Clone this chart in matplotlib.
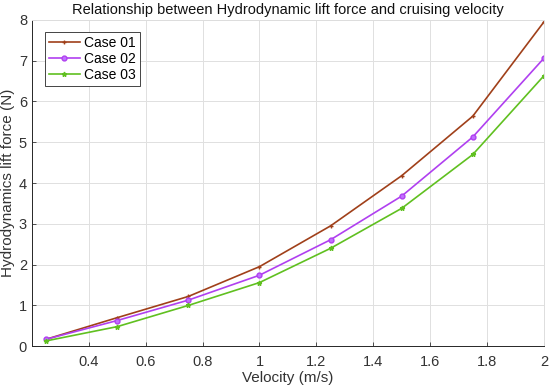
import matplotlib
matplotlib.use("Agg")
import matplotlib.pyplot as plt

plt.rcParams["font.family"] = ["Liberation Sans", "DejaVu Sans"]

velocity = [0.25, 0.5, 0.75, 1.0, 1.25, 1.5, 1.75, 2.0]
case01 = [0.17, 0.70, 1.22, 1.95, 2.95, 4.18, 5.64, 7.95]
case02 = [0.17, 0.63, 1.13, 1.74, 2.61, 3.68, 5.13, 7.06]
case03 = [0.13, 0.48, 1.00, 1.56, 2.40, 3.38, 4.70, 6.63]

fig = plt.figure(figsize=(5.5, 3.89), dpi=100)
ax = fig.add_axes([0.058, 0.110, 0.931, 0.839])

ax.plot(velocity, case01, "-+", color="#a0401a", lw=1.2, ms=3.5, mew=1, label="Case 01")
ax.plot(velocity, case02, "-o", color="#b040f0", lw=1.2, ms=3.5, mew=1,
	mfc="#c070ff", label="Case 02")
ax.plot(velocity, case03, "-*", color="#60c020", lw=1.2, ms=3.5, mew=1, label="Case 03")

ax.set_xlim(0.2, 2)
ax.set_ylim(0, 8)
ax.set_xticks([0.4, 0.6, 0.8, 1, 1.2, 1.4, 1.6, 1.8, 2])
ax.set_xticklabels(["0.4", "0.6", "0.8", "1", "1.2", "1.4", "1.6", "1.8", "2"])
ax.set_yticks(range(0, 9))

ax.grid(True, color="#e0e0e0", lw=0.7)
ax.set_axisbelow(True)
for side in ["left", "bottom"]:
	ax.spines[side].set_color("#262626")
	ax.spines[side].set_linewidth(0.7)
for side in ["top", "right"]:
	ax.spines[side].set_color("#dddddd")
	ax.spines[side].set_linewidth(0.7)
ax.tick_params(direction="in", length=3, width=0.6, colors="#333333", labelsize=10.5)
ax.tick_params(axis="x", pad=6)

ax.set_title("Relationship between Hydrodynamic lift force and cruising velocity",
	fontsize=10.5, color="#111111", pad=4)
ax.set_xlabel("Velocity (m/s)", fontsize=11, color="#333333", labelpad=2)
ax.set_ylabel("Hydrodynamics lift force (N)", fontsize=11, color="#333333", labelpad=3)

leg = ax.legend(loc="upper left", bbox_to_anchor=(0.012, 0.985), fontsize=10,
	handlelength=2.2, handletextpad=0.3, borderpad=0.3, labelspacing=0.15,
	fancybox=False, framealpha=1)
leg.get_frame().set_edgecolor("#262626")
leg.get_frame().set_linewidth(0.6)

fig.savefig("out.png", dpi=100)
